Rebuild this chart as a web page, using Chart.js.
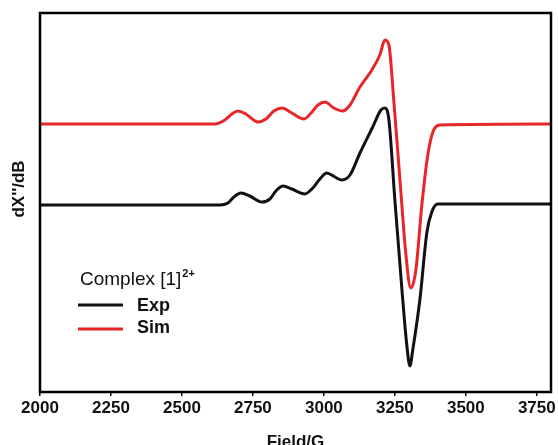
<!DOCTYPE html>
<html>
<head>
<meta charset="utf-8">
<script src="https://cdn.jsdelivr.net/npm/chart.js@4"></script>
<style>
  html, body { margin: 0; padding: 0; background: #fff; }
  #wrap { width: 558px; height: 445px; }
</style>
</head>
<body>
<div id="wrap"><canvas id="epr"></canvas></div>
<script>
// field (G) and signal (a.u.)
const expField = [2000, 2634, 2662, 2683, 2708, 2739, 2782, 2810, 2831, 2856, 2887, 2933, 2961, 2986, 3010, 3039, 3063, 3092, 3127, 3172, 3201, 3215, 3229, 3250, 3275, 3292, 3303, 3313, 3338, 3363, 3380, 3401, 3800];
const expSignal = [0, 0, 0.02, 0.08, 0.12, 0.09, 0.03, 0.06, 0.14, 0.19, 0.16, 0.11, 0.17, 0.26, 0.32, 0.28, 0.25, 0.30, 0.52, 0.78, 0.95, 0.97, 0.85, 0.05, -0.85, -1.40, -1.61, -1.45, -0.95, -0.27, -0.07, 0.01, 0.01];

const simField = [2000, 2616, 2651, 2676, 2697, 2725, 2768, 2796, 2824, 2852, 2887, 2930, 2958, 2979, 3004, 3035, 3067, 3092, 3127, 3169, 3197, 3215, 3229, 3246, 3268, 3289, 3306, 3324, 3345, 3366, 3384, 3408, 3800];
const simSignal = [0.81, 0.81, 0.85, 0.91, 0.94, 0.91, 0.83, 0.86, 0.94, 0.97, 0.92, 0.86, 0.93, 1.00, 1.03, 0.97, 0.94, 1.00, 1.18, 1.35, 1.50, 1.65, 1.60, 1.05, 0.25, -0.50, -0.83, -0.65, 0.0, 0.50, 0.73, 0.80, 0.81];

const xTicks = [2000, 2250, 2500, 2750, 3000, 3250, 3500, 3750];

const toPoints = (xs, ys) => xs.map((x, i) => ({ x: x, y: ys[i] }));

// frame, legend and axis titles drawn on top
const decorations = {
    id: 'decorations',
    afterDraw(chart) {
        const ctx = chart.ctx;
        const a = chart.chartArea;
        ctx.save();
        ctx.strokeStyle = '#000';
        ctx.lineWidth = 2.5;
        ctx.strokeRect(a.left, a.top, a.right - a.left, a.bottom - a.top);

        // axis titles
        ctx.fillStyle = '#111';
        ctx.font = 'bold 17px "Liberation Sans", Arial, sans-serif';
        ctx.textAlign = 'center';
        ctx.textBaseline = 'middle';
        ctx.fillText('Field/G', (a.left + a.right) / 2, 442);
        ctx.save();
        ctx.translate(19, 189);
        ctx.rotate(-Math.PI / 2);
        ctx.fillText("dX''/dB", 0, 0);
        ctx.restore();

        // legend
        ctx.textAlign = 'left';
        ctx.textBaseline = 'alphabetic';
        ctx.font = '19px "Liberation Sans", Arial, sans-serif';
        ctx.fillText('Complex [1]', 80, 285);
        const w = ctx.measureText('Complex [1]').width;
        ctx.font = 'bold 11px "Liberation Sans", Arial, sans-serif';
        ctx.fillText('2+', 80 + w + 1, 277);

        ctx.lineWidth = 3;
        ctx.strokeStyle = '#111';
        ctx.beginPath(); ctx.moveTo(78, 305); ctx.lineTo(123, 305); ctx.stroke();
        ctx.strokeStyle = '#e8262a';
        ctx.beginPath(); ctx.moveTo(78, 329); ctx.lineTo(123, 329); ctx.stroke();
        ctx.font = 'bold 18px "Liberation Sans", Arial, sans-serif';
        ctx.textBaseline = 'middle';
        ctx.fillText('Exp', 137, 306);
        ctx.fillText('Sim', 137, 328);
        ctx.restore();
    }
};

new Chart(document.getElementById('epr').getContext('2d'), {
    type: 'line',
    data: {
        datasets: [{
            label: 'Exp',
            data: toPoints(expField, expSignal),
            borderColor: '#111',
            borderWidth: 3,
            pointRadius: 0,
            cubicInterpolationMode: 'monotone'
        }, {
            label: 'Sim',
            data: toPoints(simField, simSignal),
            borderColor: '#e8262a',
            borderWidth: 3,
            pointRadius: 0,
            cubicInterpolationMode: 'monotone'
        }]
    },
    options: {
        responsive: true,
        maintainAspectRatio: false,
        animation: false,
        layout: { padding: { top: 13, right: 7, left: 0, bottom: 0 } },
        plugins: {
            legend: { display: false },
            tooltip: { enabled: false }
        },
        scales: {
            x: {
                type: 'linear',
                min: 2000,
                max: 3800,
                afterFit: s => { s.height = 53; },
                afterBuildTicks: s => { s.ticks = xTicks.map(v => ({ value: v })); },
                grid: { drawOnChartArea: false, tickLength: 4, color: '#000', lineWidth: 1.5 },
                border: { display: false },
                ticks: {
                    color: '#111',
                    padding: 2,
                    maxRotation: 0,
                    autoSkip: false,
                    callback: v => String(v),
                    font: { family: '"Liberation Sans", Arial, sans-serif', size: 17, weight: 'bold' }
                }
            },
            y: {
                min: -1.87,
                max: 1.92,
                afterFit: s => { s.width = 40; },
                grid: { display: false },
                border: { display: false },
                ticks: { display: false }
            }
        }
    },
    plugins: [decorations]
});
</script>
</body>
</html>
